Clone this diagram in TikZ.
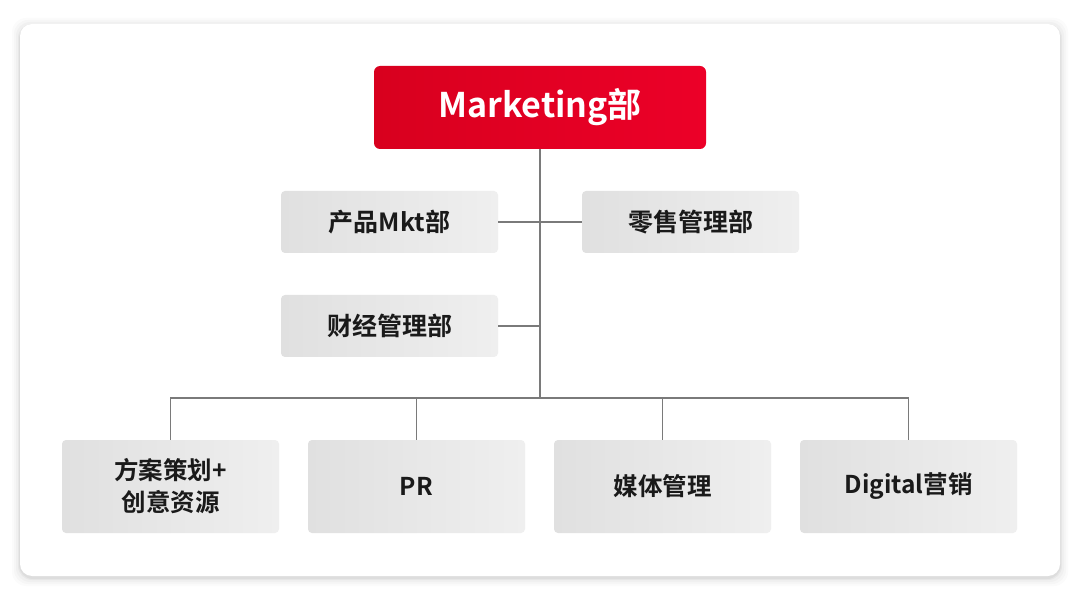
\documentclass[tikz,border=0pt]{standalone}
\usepackage{fontspec}
\setmainfont{Noto Sans CJK SC}[BoldFont={Noto Sans CJK SC Bold}]
\definecolor{redL}{HTML}{D8001E}
\definecolor{redR}{HTML}{EC0028}
\definecolor{grayL}{HTML}{E0E0E0}
\definecolor{grayR}{HTML}{EFEFEF}
\definecolor{linec}{HTML}{7A7A7A}
\definecolor{txt}{HTML}{1A1A1A}
\begin{document}
\begin{tikzpicture}[x=1pt,y=-1pt,
  topbox/.style={rounded corners=6pt,left color=redL,right color=redR,draw=none,
    minimum width=332pt,minimum height=83pt,inner sep=0pt,text=white,
    font=\bfseries\fontsize{34}{38}\selectfont},
  midbox/.style={rounded corners=4pt,left color=grayL,right color=grayR,draw=none,
    minimum width=217pt,minimum height=62pt,inner sep=0pt,text=txt,
    font=\bfseries\fontsize{25}{30}\selectfont},
  botbox/.style={midbox,minimum height=93pt,align=center,
    font=\bfseries\fontsize{24.5}{32}\selectfont},
  conn/.style={draw=linec,line width=1.4pt}]
\useasboundingbox (0,0) rectangle (1080,596);
\fill[white] (0,0) rectangle (1080,596);
% card shadow
\foreach \d/\o in {8/0.015,6/0.02,4/0.025,2/0.035,1/0.04}{
  \fill[black,opacity=\o,rounded corners=14pt] (20-\d,24-\d+2) rectangle (1060+\d,576+\d+2);}
\fill[white,rounded corners=12pt] (20,24) rectangle (1060,576);
% nodes
\node[topbox] (top) at (540,107.5) {Marketing部};
\node[midbox] (p) at (389.5,222) {产品Mkt部};
\node[midbox] (r) at (690.5,222) {零售管理部};
\node[midbox] (f) at (389.5,326) {财经管理部};
\node[botbox] (b1) at (170.5,486.5) {方案策划+\\创意资源};
\node[botbox] (b2) at (416.5,486.5) {PR};
\node[botbox] (b3) at (662.5,486.5) {媒体管理};
\node[botbox] (b4) at (908.5,486.5) {Digital营销};
% connectors
\coordinate (hub) at (540,398);
\draw[conn] (top.south) -- (hub);
\draw[conn] (p.east) -- (r.west);
\draw[conn] (f.east) -- (540,326);
\draw[conn] (b1.north) |- (hub) -| (b4.north);
\draw[conn] (b2.north) -- (b2.north |- hub);
\draw[conn] (b3.north) -- (b3.north |- hub);
\end{tikzpicture}
\end{document}
